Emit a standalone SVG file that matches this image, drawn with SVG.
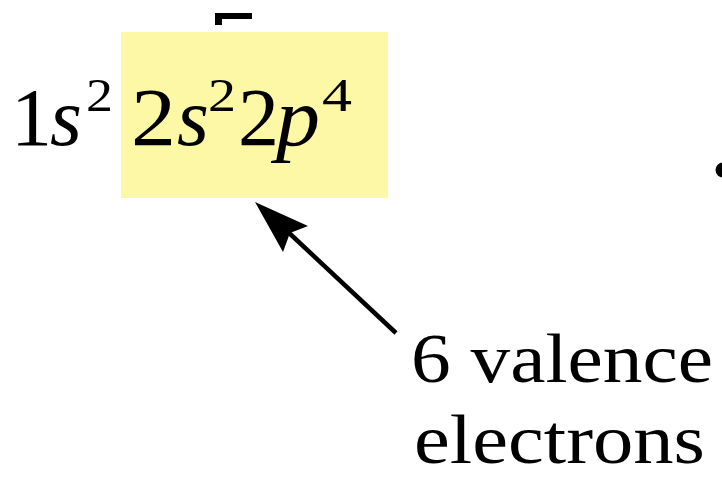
<svg xmlns="http://www.w3.org/2000/svg" width="722" height="477" viewBox="0 0 722 477">
<style>
.t{font-family:"Liberation Serif","Times New Roman",serif;fill:#000}
.big{font-size:82px}
.sup{font-size:46px}
.it{font-style:italic}
.lbl{font-size:70px}
</style>
<rect width="722" height="477" fill="#fff"/>
<g id="highlight">
<rect x="121" y="32" width="267" height="166" fill="#FDF8A6"/>
</g>
<g id="bracket">
<path d="M215 13 H252 V19 H222 V25 H215 Z" fill="#000"/>
</g>
<g id="dot">
<circle cx="723" cy="170" r="7.5" fill="#000"/>
</g>
<g id="config">
<text class="t big" x="11" y="145">1</text>
<text class="t big it" x="50" y="145">s</text>
<text class="t sup" x="86" y="111" textLength="27" lengthAdjust="spacingAndGlyphs">2</text>
<text class="t big" x="131" y="145" textLength="45" lengthAdjust="spacingAndGlyphs">2</text>
<text class="t big it" x="177" y="145">s</text>
<text class="t sup" x="208" y="111" textLength="28" lengthAdjust="spacingAndGlyphs">2</text>
<text class="t big" x="238" y="145" textLength="41" lengthAdjust="spacingAndGlyphs">2</text>
<text class="t big it" x="276" y="145" textLength="44" lengthAdjust="spacingAndGlyphs">p</text>
<text class="t sup" x="322" y="111" textLength="30" lengthAdjust="spacingAndGlyphs">4</text>
</g>
<g id="connectors">
<line x1="396" y1="333" x2="287" y2="231" stroke="#000" stroke-width="4.5"/>
<path d="M255 202 L308 226 L290 233 L283 252 Z" fill="#000"/>
</g>
<g id="label">
<text class="t lbl" x="411" y="382" textLength="302" lengthAdjust="spacingAndGlyphs">6 valence</text>
<text class="t lbl" x="414" y="463" textLength="291" lengthAdjust="spacingAndGlyphs">electrons</text>
</g>
</svg>
